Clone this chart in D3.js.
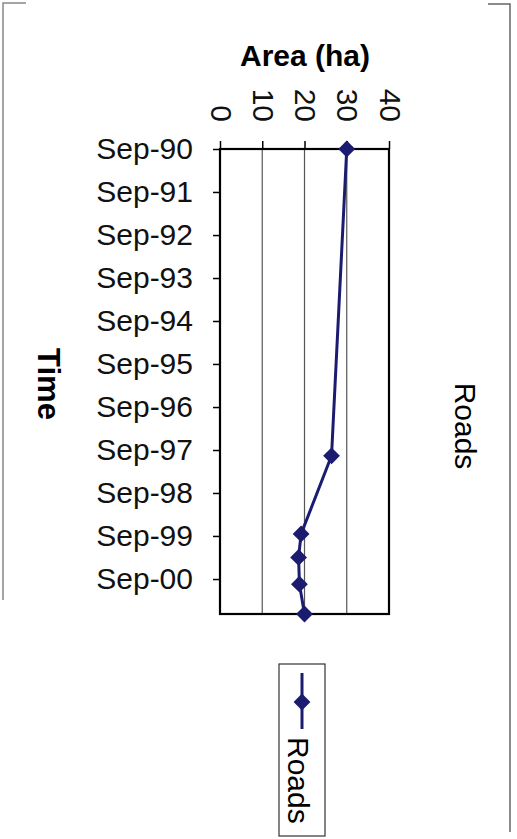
<!DOCTYPE html>
<html>
<head>
<meta charset="utf-8">
<script src="https://cdn.jsdelivr.net/npm/d3@7"></script>
<style>
  body { margin: 0; background: #fff; }
  svg { display: block; font-family: "Liberation Sans", Arial, sans-serif; }
  .axis path { display: none; }
  .axis line { stroke: #000; stroke-width: 1.5; }
  .axis text { font-size: 30px; fill: #111; }
</style>
</head>
<body>
<svg id="chart" width="517" height="839"></svg>
<script>
// chart values
var dates = ["1990-09-01", "1997-10-20", "1999-08-15", "2000-03-01", "2000-10-15", "2001-06-25"];
var roads = [30, 26.4, 19.2, 18.6, 18.8, 20.0];
var areaTicks = [0, 10, 20, 30, 40];
var timeTicks = ["1990-09-01", "1991-09-01", "1992-09-01", "1993-09-01", "1994-09-01", "1995-09-01",
                 "1996-09-01", "1997-09-01", "1998-09-01", "1999-09-01", "2000-09-01"];
var seriesName = "Roads";

var parse = d3.timeParse("%Y-%m-%d");
var points = dates.map(function(d, i) { return { t: parse(d), v: roads[i] }; });

var svg = d3.select("#chart");
var plot = { left: 220, right: 389, top: 149, bottom: 614 };
var navy = "#1b1b70";

var x = d3.scaleLinear().domain([0, 40]).range([plot.left, plot.right]);
var y = d3.scaleTime()
    .domain([points[0].t, points[points.length - 1].t])
    .range([plot.top, plot.bottom]);

// chart area outline (scanned border, only partly visible)
svg.append("path")
    .attr("d", "M26,3 H3 V600")
    .attr("fill", "none").attr("stroke", "#888").attr("stroke-width", 1.5);
svg.append("path")
    .attr("d", "M488,4 H510 V832")
    .attr("fill", "none").attr("stroke", "#666").attr("stroke-width", 1.5);

// gridlines
svg.append("g")
    .selectAll("line")
    .data(areaTicks.slice(1, -1))
    .join("line")
    .attr("x1", function(d) { return x(d); })
    .attr("x2", function(d) { return x(d); })
    .attr("y1", plot.top)
    .attr("y2", plot.bottom)
    .attr("stroke", "#555")
    .attr("stroke-width", 1.2);

// plot border
svg.append("rect")
    .attr("x", plot.left).attr("y", plot.top)
    .attr("width", plot.right - plot.left)
    .attr("height", plot.bottom - plot.top)
    .attr("fill", "none").attr("stroke", "#000").attr("stroke-width", 2.2);

// top (area) axis, labels turned a quarter clockwise
var xAxis = svg.append("g")
    .attr("class", "axis")
    .attr("transform", "translate(0," + plot.top + ")")
    .call(d3.axisTop(x).tickValues(areaTicks).tickSize(8).tickPadding(0));
xAxis.selectAll("text")
    .attr("text-anchor", "end")
    .attr("transform", "translate(1,-27) rotate(90)")
    .attr("x", 0).attr("y", 0)
    .attr("dy", "0.36em");

// left (time) axis
svg.append("g")
    .attr("class", "axis")
    .attr("transform", "translate(" + plot.left + ",0)")
    .call(d3.axisLeft(y)
        .tickValues(timeTicks.map(parse))
        .tickFormat(d3.timeFormat("%b-%y"))
        .tickSize(7)
        .tickPadding(20));

// axis titles
svg.append("text")
    .attr("x", 305).attr("y", 66)
    .attr("text-anchor", "middle")
    .attr("font-size", 30).attr("font-weight", "bold")
    .text("Area (ha)");

svg.append("text")
    .attr("transform", "translate(38,384) rotate(90)")
    .attr("text-anchor", "middle")
    .attr("font-size", 31).attr("font-weight", "bold")
    .text("Time");

svg.append("text")
    .attr("transform", "translate(455,426) rotate(90)")
    .attr("text-anchor", "middle")
    .attr("font-size", 30)
    .text(seriesName);

// series
var line = d3.line()
    .x(function(d) { return x(d.v); })
    .y(function(d) { return y(d.t); });

svg.append("path")
    .datum(points)
    .attr("d", line)
    .attr("fill", "none")
    .attr("stroke", navy)
    .attr("stroke-width", 3);

var diamond = d3.symbol().type(d3.symbolDiamond2).size(180);
svg.append("g")
    .selectAll("path")
    .data(points)
    .join("path")
    .attr("d", diamond)
    .attr("transform", function(d) { return "translate(" + x(d.v) + "," + y(d.t) + ")"; })
    .attr("fill", navy);

// legend
var legend = svg.append("g");
legend.append("rect")
    .attr("x", 279).attr("y", 664).attr("width", 46).attr("height", 172)
    .attr("fill", "#fff").attr("stroke", "#333").attr("stroke-width", 1.2);
legend.append("line")
    .attr("x1", 302).attr("x2", 302).attr("y1", 673).attr("y2", 729)
    .attr("stroke", navy).attr("stroke-width", 3);
legend.append("path")
    .attr("d", diamond)
    .attr("transform", "translate(302,702)")
    .attr("fill", navy);
legend.append("text")
    .attr("transform", "translate(288,737) rotate(90)")
    .attr("font-size", 30)
    .text(seriesName);
</script>
</body>
</html>
